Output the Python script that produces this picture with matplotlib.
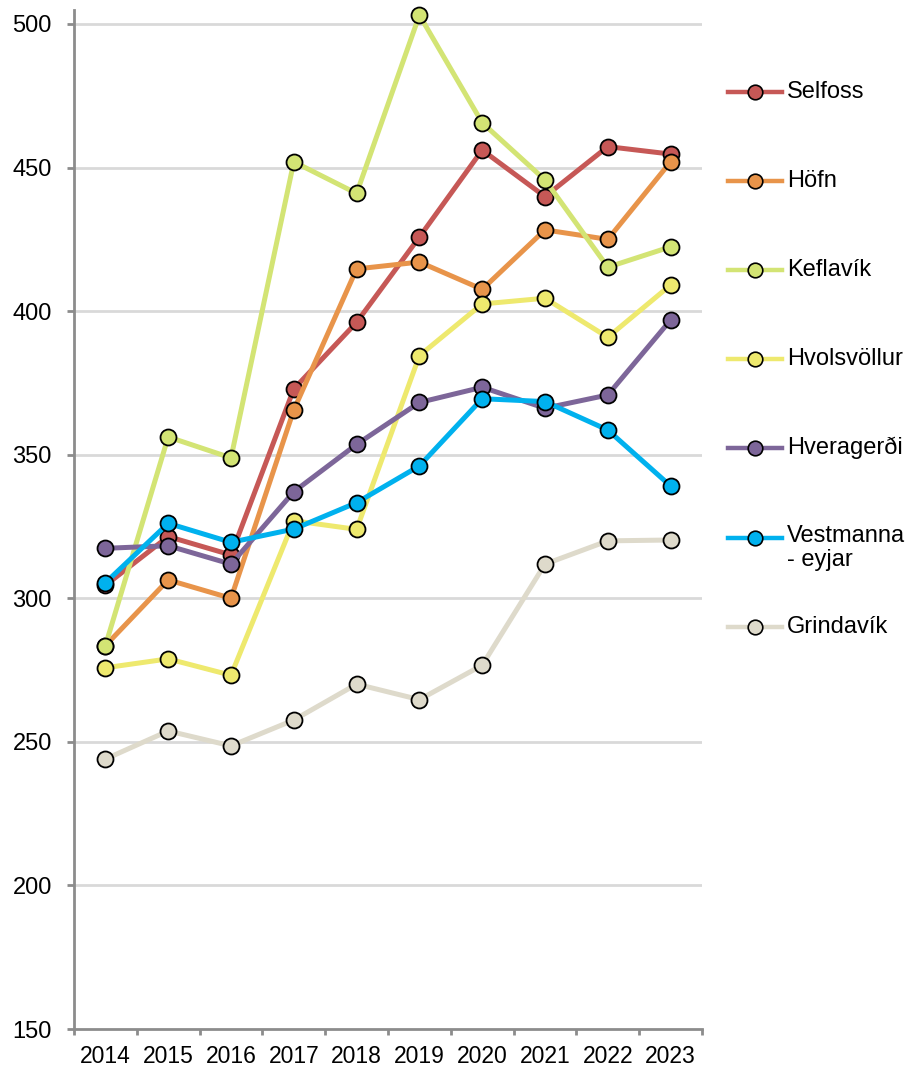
import matplotlib
matplotlib.use("Agg")
import matplotlib.pyplot as plt
from matplotlib.lines import Line2D

plt.rcParams['font.family'] = ['Liberation Sans', 'DejaVu Sans']

years = ["2014", "2015", "2016", "2017", "2018", "2019", "2020", "2021", "2022", "2023"]

selfoss = [304.5, 321.5, 315.1, 372.9, 396.1, 425.8, 456.1, 439.9, 457.3, 454.7]
hofn = [283.5, 306.4, 300.0, 365.6, 414.7, 417.1, 407.6, 428.3, 425.0, 452.0]
keflavik = [283.5, 356.2, 348.9, 452.0, 441.0, 503.1, 465.6, 445.7, 415.3, 422.4]
hvolsvollur = [275.8, 278.9, 273.2, 327.0, 324.0, 384.5, 402.5, 404.5, 390.9, 409.1]
hveragerdi = [317.4, 318.3, 311.9, 337.1, 353.6, 368.2, 373.5, 366.2, 370.8, 396.9]
vestmannaeyjar = [305.4, 326.1, 319.5, 324.1, 333.3, 346.1, 369.5, 368.5, 358.6, 339.1]
grindavik = [244.0, 253.8, 248.6, 257.6, 270.1, 264.7, 276.7, 311.9, 320.0, 320.3]

series_names = ["Selfoss", "Höfn", "Keflavík", "Hvolsvöllur", "Hveragerði",
                "Vestmanna\n- eyjar", "Grindavík"]
series_values = [selfoss, hofn, keflavik, hvolsvollur, hveragerdi,
                 vestmannaeyjar, grindavik]
series_colors = ["#C65856", "#E8944A", "#D3E474", "#EEE96E", "#7D6699",
                 "#00B1EE", "#DEDACB"]

y_ticks = [150, 200, 250, 300, 350, 400, 450, 500]

W, H = 912, 1073
fig = plt.figure(figsize=(W / 100, H / 100), dpi=100)
ax = fig.add_axes([74 / W, 1 - 1029 / H, (702 - 74) / W, (1029 - 10) / H])

x = list(range(len(years)))
# later series are drawn on top of earlier ones
for i, (name, vals, col) in enumerate(zip(series_names, series_values, series_colors)):
    ax.plot(x, vals, color=col, lw=3.6, marker="o", markersize=11.5,
            markerfacecolor=col, markeredgecolor="black", markeredgewidth=1.3,
            zorder=3 + i, clip_on=False, solid_capstyle="round")

ax.set_xlim(-0.5, len(years) - 0.5)
ymin, ymax = 150, 500
top_val = ymax + (24 - 10) / ((1029 - 24) / (ymax - ymin))
ax.set_ylim(ymin, top_val)

ax.set_yticks(y_ticks)
ax.set_yticklabels([str(v) for v in y_ticks], fontsize=17)
ax.tick_params(axis="y", length=5, width=2, color="#8C8C8C", pad=11)

# category boundaries carry the tick marks, labels sit at category centres
ax.set_xticks([i - 0.5 for i in range(len(years) + 1)])
ax.set_xticklabels([])
ax.set_xticks(x, minor=True)
ax.set_xticklabels(years, minor=True, fontsize=16.5)
ax.tick_params(axis="x", which="major", length=4, width=2, color="#8C8C8C")
ax.tick_params(axis="x", which="minor", length=0, pad=11.5)

for v in y_ticks[1:]:
    ax.axhline(v, color="#D9D9D9", lw=2, zorder=1)

for side in ["top", "right"]:
    ax.spines[side].set_visible(False)
for side in ["left", "bottom"]:
    ax.spines[side].set_color("#8C8C8C")
    ax.spines[side].set_linewidth(2)
ax.spines["bottom"].set_zorder(0.5)

# legend column on the right
leg_y = [92, 181, 270, 359, 448, 538, 627]
for name, col, yp in zip(series_names, series_colors, leg_y):
    yf = 1 - yp / H
    fig.add_artist(Line2D([728 / W, 782 / W], [yf, yf], color=col, lw=3.2,
                          transform=fig.transFigure))
    fig.add_artist(Line2D([755 / W], [yf], marker="o", markersize=10.5,
                          markerfacecolor=col, markeredgecolor="black",
                          markeredgewidth=1.2, transform=fig.transFigure))
    if "\n" in name:
        fig.text(787 / W, yf + 13 / H, name, fontsize=17, va="top", ha="left",
                 linespacing=1.1)
    else:
        fig.text(787 / W, yf, name, fontsize=17, va="center", ha="left")

fig.savefig("out.png", dpi=100)
